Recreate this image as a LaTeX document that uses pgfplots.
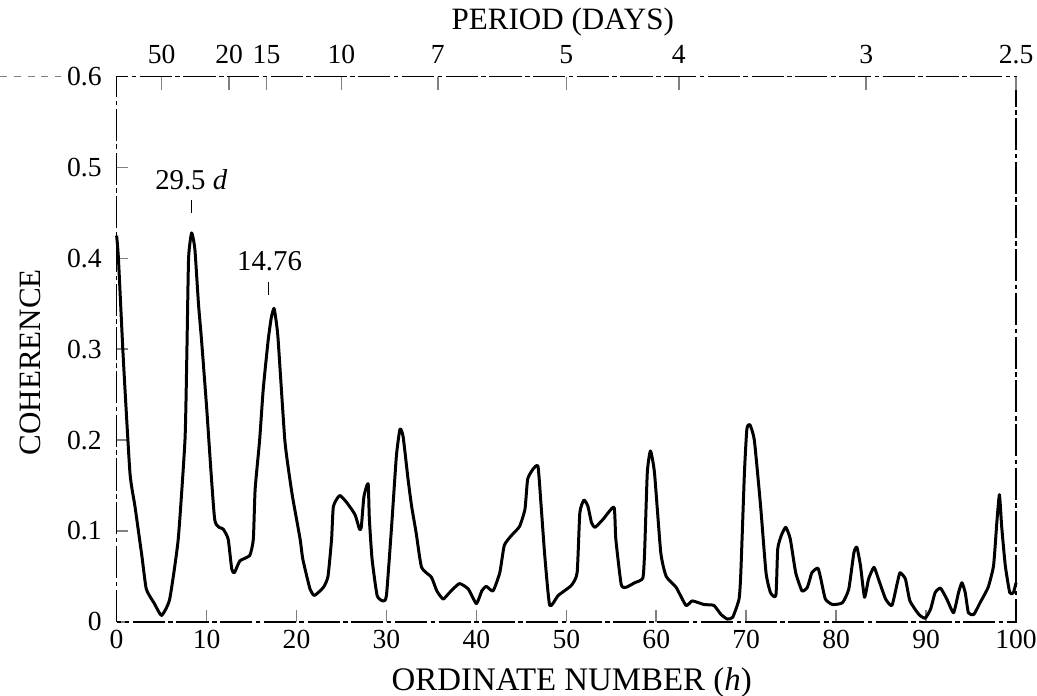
\documentclass[border=0pt]{standalone}
\usepackage{pgfplots}
\pgfplotsset{compat=1.18}
\usepackage{fontspec}
\setmainfont{Liberation Serif}
\pgfplotstableread{
h v
0 0.425
0.2 0.40
0.74 0.29
1.48 0.164
2.04 0.127
2.8 0.073
3.3 0.036
4.2 0.02
5.0 0.007
5.9 0.025
6.85 0.091
7.6 0.2
7.8 0.29
8.0 0.40
8.34 0.428
8.7 0.41
9.1 0.35
9.44 0.31
10.0 0.237
10.9 0.113
11.85 0.102
12.4 0.091
12.8 0.058
13.1 0.054
13.7 0.067
14.8 0.073
15.2 0.091
15.4 0.146
15.9 0.2
16.3 0.256
16.85 0.31
17.2 0.335
17.5 0.345
17.75 0.33
17.96 0.31
18.7 0.2
19.26 0.157
19.6 0.135
20.4 0.091
20.7 0.069
21.5 0.036
22.0 0.029
23.0 0.038
23.5 0.05
23.9 0.091
24.1 0.127
24.8 0.139
25.6 0.131
26.5 0.118
27.0 0.102
27.2 0.104
27.5 0.138
27.96 0.152
28.1 0.113
28.4 0.069
28.96 0.029
29.6 0.023
30.0 0.029
30.6 0.109
31.1 0.182
31.5 0.212
31.85 0.204
32.4 0.157
32.8 0.127
33.3 0.098
33.9 0.06
35.0 0.049
35.6 0.034
36.3 0.025
37.0 0.032
38.1 0.042
39.1 0.036
40.0 0.020
40.6 0.034
41.1 0.039
41.85 0.034
42.6 0.054
43.1 0.084
43.9 0.095
44.8 0.105
45.4 0.124
45.7 0.157
46.3 0.168
46.85 0.171
47.2 0.127
47.6 0.073
48.15 0.018
49.1 0.029
50.55 0.04
51.2 0.054
51.5 0.12
51.96 0.134
52.4 0.127
52.8 0.109
53.2 0.104
54.1 0.113
55.3 0.126
55.5 0.091
56.1 0.041
56.65 0.038
57.6 0.043
58.5 0.048
58.7 0.076
59.0 0.164
59.35 0.188
59.8 0.164
60.5 0.076
61.1 0.05
62.2 0.038
63.3 0.018
64.0 0.023
65.3 0.019
66.4 0.018
67.2 0.008
67.9 0.003
68.5 0.005
69.2 0.025
69.4 0.054
69.8 0.164
70.07 0.212
70.4 0.217
70.9 0.2
71.6 0.127
72.2 0.054
72.7 0.032
73.3 0.029
73.5 0.08
73.9 0.095
74.4 0.104
74.9 0.091
75.5 0.054
76.2 0.034
76.8 0.038
77.3 0.054
77.97 0.059
78.3 0.047
78.8 0.025
79.6 0.019
80.7 0.021
81.4 0.036
81.97 0.076
82.3 0.082
82.7 0.062
83.15 0.027
83.6 0.047
84.2 0.06
84.7 0.047
85.5 0.025
86.2 0.018
86.8 0.043
87.1 0.054
87.7 0.047
88.2 0.023
89.2 0.008
89.9 0.004
90.5 0.014
91.0 0.032
91.6 0.037
92.3 0.025
93.05 0.01
93.6 0.032
93.98 0.043
94.35 0.032
94.7 0.01
95.3 0.008
96.0 0.021
96.9 0.038
97.5 0.062
97.86 0.109
98.15 0.140
98.4 0.105
98.8 0.062
99.3 0.032
99.7 0.032
100 0.043
}\coh
\begin{document}
\begin{tikzpicture}
\path[use as bounding box] (-50.7pt,-31.9pt) rectangle (400.1pt,270.3pt);
\begin{axis}[
  at={(0,0)}, anchor=south west,
  width=391pt, height=237pt, scale only axis,
  xmin=0, xmax=100, ymin=0, ymax=0.6,
  axis line style={line width=0.7pt, dash pattern=on 14pt off 1.5pt on 2pt off 1.5pt},
  xtick={0,10,...,100},
  ytick={0,0.1,0.2,0.3,0.4,0.5,0.6},
  yticklabels={0,0.1,0.2,0.3,0.4,0.5,0.6},
  xtick pos=lower, ytick pos=left,
  tick align=inside,
  major tick length=5pt,
  tick style={line width=0.7pt, solid},
  /pgf/number format/assume math mode=true,
  tick label style={font=\fontsize{12}{14}\selectfont},
  yticklabel style={xshift=-3pt},
  xlabel={ORDINATE NUMBER (\textit{h})},
  xlabel style={at={(axis description cs:0.506,-0.112)}, anchor=center, font=\fontsize{14.3}{16}\selectfont},
  ylabel={COHERENCE},
  ylabel style={at={(axis description cs:-0.096,0.476)}, anchor=center, font=\fontsize{13.5}{16}\selectfont},
  clip=false,
]
\addplot[black, line width=1.3pt, line join=round, smooth, tension=0.3] table[x=h, y=v] {\coh};
\draw[line width=0.7pt] (axis cs:8.34,0.45) -- (axis cs:8.34,0.464);
\node[font=\fontsize{12.5}{14}\selectfont] at (axis cs:8.3,0.487) {29.5 \textit{d}};
\draw[line width=0.7pt] (axis cs:16.9,0.36) -- (axis cs:16.9,0.374);
\node[font=\fontsize{12.5}{14}\selectfont] at (axis cs:17.0,0.397) {14.76};
\draw[gray, dashed, line width=0.5pt] (-50.7pt,237pt) -- (-24pt,237pt);
\node[font=\fontsize{13.5}{16}\selectfont] at (rel axis cs:0.496,1.10) {PERIOD (DAYS)};
\end{axis}
\begin{axis}[
  at={(0,0)}, anchor=south west,
  width=391pt, height=237pt, scale only axis,
  xmin=0, xmax=100, ymin=0, ymax=0.6,
  axis x line*=top, hide y axis,
  axis line style={draw=none},
  xtick={5,12.5,16.667,25,35.714,50,62.5,83.333,100},
  xticklabels={50,20,15,10,7,5,4,3,2.5},
  tick align=inside,
  major tick length=6pt,
  tick style={line width=0.7pt},
  /pgf/number format/assume math mode=true,
  tick label style={font=\fontsize{12}{14}\selectfont},
  xticklabel style={yshift=2pt},
]
\end{axis}
\end{tikzpicture}
\end{document}
